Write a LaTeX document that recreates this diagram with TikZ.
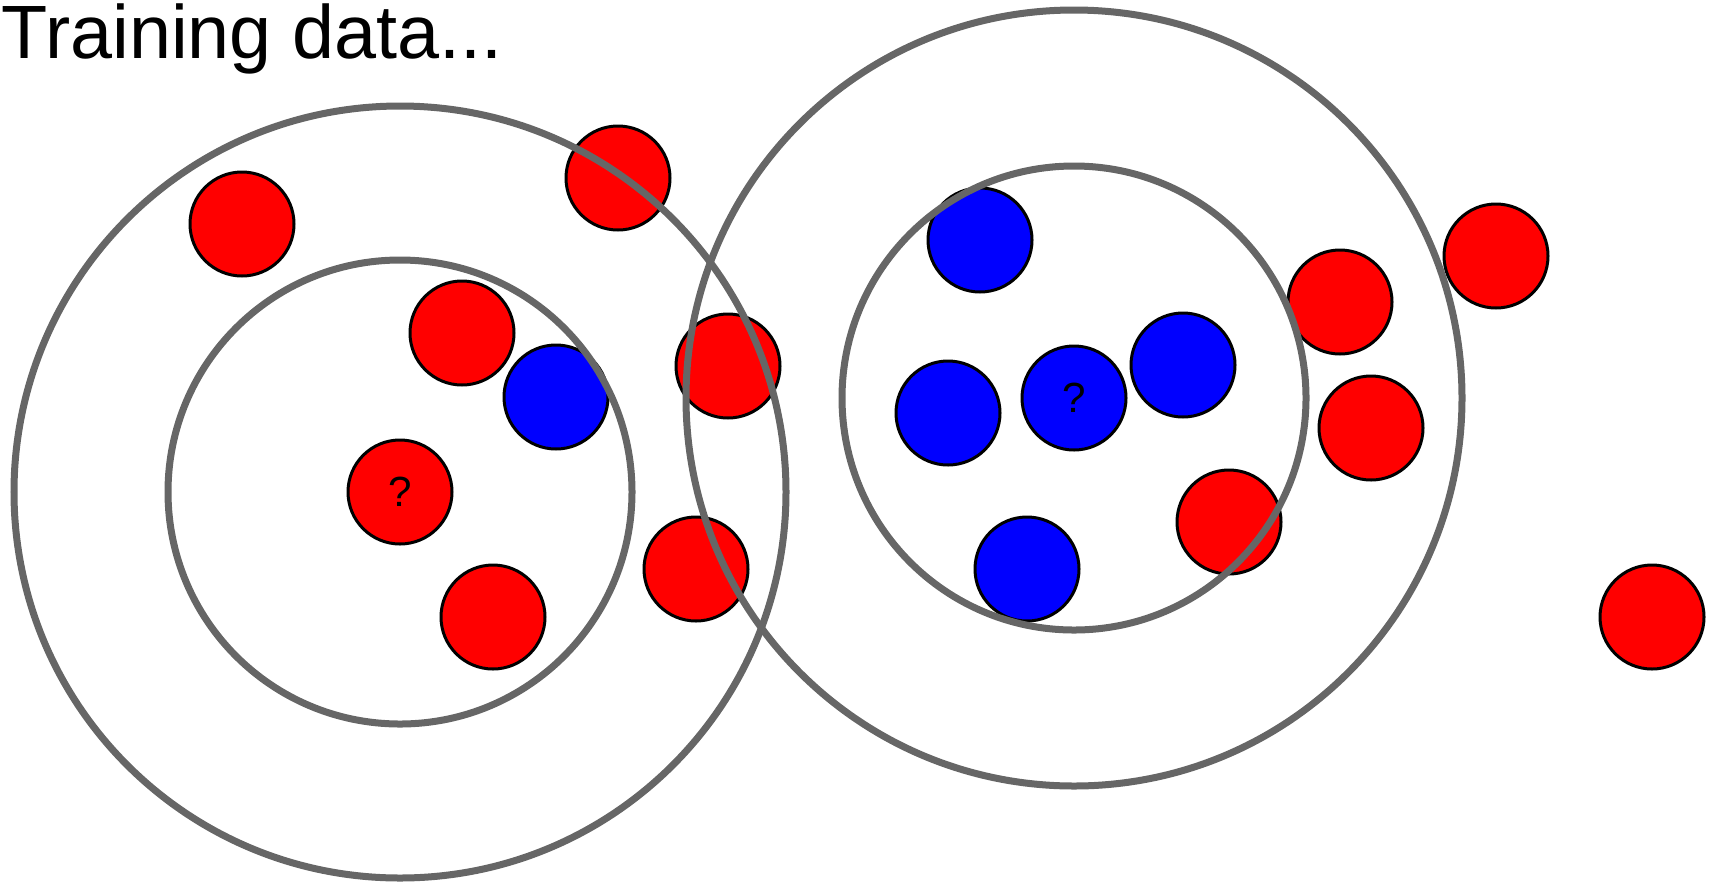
\documentclass[tikz,border=0pt]{standalone}
\usepackage{fontspec}
\setmainfont{Liberation Sans}
\definecolor{ringgrey}{HTML}{666666}
\tikzset{
	dot/.style={circle, draw=black, line width=0.03cm, inner sep=0pt, minimum size=1.04cm, font=\fontsize{12}{12}\selectfont},
	reddot/.style={dot, fill=red},
	bluedot/.style={dot, fill=blue},
	ring/.style={draw=ringgrey, line width=0.07cm}
}

\begin{document}
\begin{tikzpicture}
	\useasboundingbox (0, 0) rectangle (17.09, 8.82);
	\node[anchor=base west, inner sep=0pt, font=\fontsize{21.5}{21.5}\selectfont](T) at (0.01, 8.24){Training data...};
	% left group
	\node[reddot](R1) at (2.42, 6.58){};
	\node[reddot](R2) at (6.18, 7.04){};
	\node[reddot](R3) at (4.62, 5.49){};
	\node[bluedot](B1) at (5.56, 4.85){};
	\node[reddot](R4) at (7.28, 5.16){};
	\node[reddot](Q1) at (4.00, 3.90){?};
	\node[reddot](R5) at (4.93, 2.65){};
	\node[reddot](R6) at (6.96, 3.13){};
	% right group
	\node[bluedot](B2) at (9.80, 6.42){};
	\node[bluedot](B3) at (9.48, 4.69){};
	\node[bluedot](Q2) at (10.74, 4.84){?};
	\node[bluedot](B4) at (11.83, 5.17){};
	\node[bluedot](B5) at (10.27, 3.13){};
	\node[reddot](R7) at (13.40, 5.80){};
	\node[reddot](R8) at (14.96, 6.26){};
	\node[reddot](R9) at (13.71, 4.54){};
	\node[reddot](R10) at (12.29, 3.60){};
	\node[reddot](R11) at (16.52, 2.65){};
	% neighbourhoods
	\draw[ring] (Q1.center) circle (3.86);
	\draw[ring] (Q1.center) circle (2.32);
	\draw[ring] (Q2.center) circle (3.88);
	\draw[ring] (Q2.center) circle (2.32);
\end{tikzpicture}
\end{document}
